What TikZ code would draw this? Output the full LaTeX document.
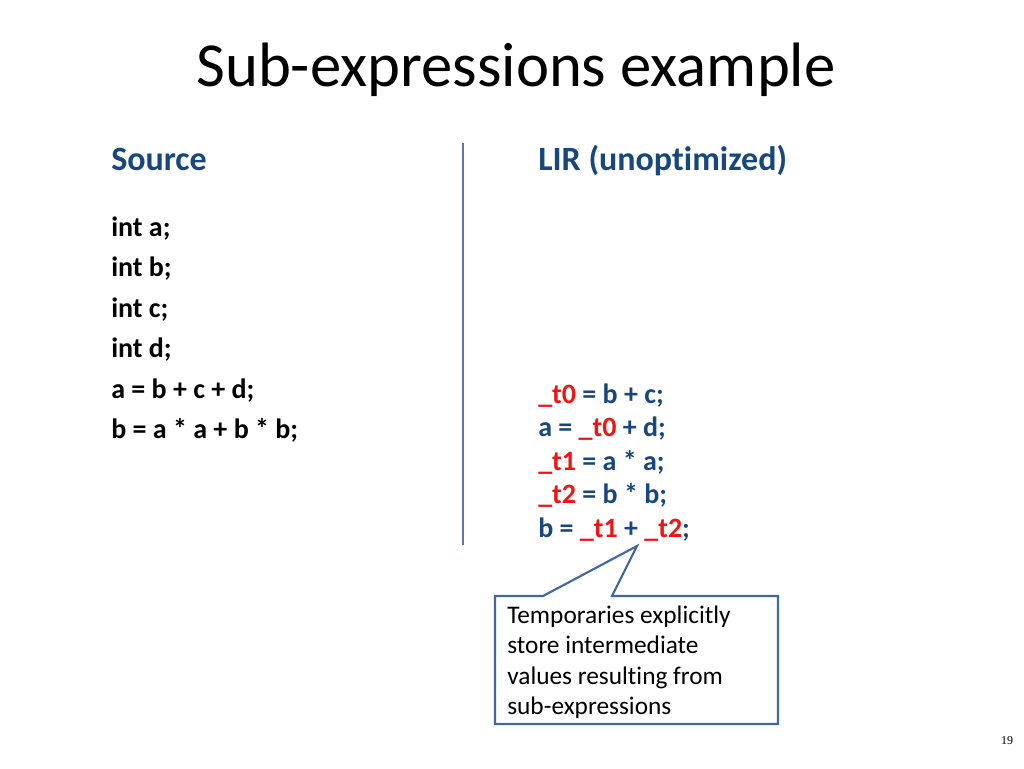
\documentclass[tikz,border=0pt]{standalone}
\usepackage{fontspec}
\setmainfont{Carlito}[Ligatures=NoCommon]
\newfontfamily\pgnum{Liberation Serif}
\definecolor{hdblue}{RGB}{23,71,125}
\definecolor{rulec}{RGB}{90,120,165}
\definecolor{tred}{RGB}{240,20,20}
\definecolor{boxc}{RGB}{65,105,160}
\begin{document}
\begin{tikzpicture}[x=0.75pt,y=-0.75pt,
  txt/.style={anchor=west,inner sep=0,text height=0.68em,text depth=0.2em},
  code/.style={txt,font=\fontsize{21}{24}\selectfont\bfseries},
  lir/.style={code,text=hdblue},
  head/.style={txt,font=\fontsize{25.5}{28}\selectfont\bfseries,text=hdblue},
  note/.style={txt,font=\fontsize{19}{22}\selectfont}]
\useasboundingbox (0,0) rectangle (1024,768);
\node (title) at (516,70) {\fontsize{47}{52}\selectfont Sub-expressions example};
\node[head] (src) at (111,167) {Source};
\node[head] (lirh) at (538,167) {LIR (unoptimized)};
\draw[rulec,line width=2.2pt] (463,143) -- (463,545);
\node[code] (s1) at (111,233) {int a;};
\node[code] (s2) at (111,273.5) {int b;};
\node[code] (s3) at (111,314) {int c;};
\node[code] (s4) at (111,354.5) {int d;};
\node[code] (s5) at (111,395) {a = b + c + d;};
\node[code] (s6) at (111,435.5) {b = a * a + b * b;};
\node[lir] (l1) at (538,400) {\textcolor{tred}{\_t0} = b + c;};
\node[lir] (l2) at (538,433.5) {a = \textcolor{tred}{\_t0} + d;};
\node[lir] (l3) at (538,467) {\textcolor{tred}{\_t1} = a * a;};
\node[lir] (l4) at (538,500.5) {\textcolor{tred}{\_t2} = b * b;};
\node[lir] (l5) at (538,534) {b = \textcolor{tred}{\_t1} + \textcolor{tred}{\_t2};};
\draw[boxc,line width=1.6pt,fill=white,line join=miter]
  (495,596) -- (543,596) -- (637,546) -- (612,596) -- (778,596) -- (778,724) -- (495,724) -- cycle;
\node[note] (n1) at (507,620) {Temporaries explicitly};
\node[note] (n2) at (507,650.5) {store intermediate};
\node[note] (n3) at (507,681) {values resulting from};
\node[note] (n4) at (507,711.5) {sub-expressions};
\node (pg) at (1007,741) {\pgnum\fontsize{9}{10}\selectfont 19};
\end{tikzpicture}
\end{document}
